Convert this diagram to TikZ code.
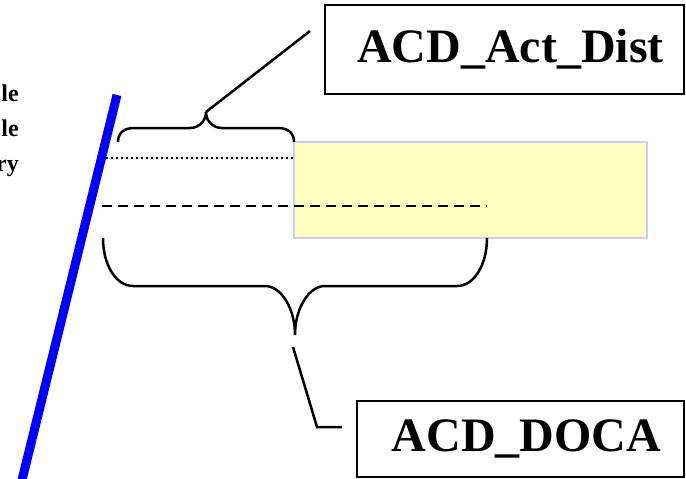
\documentclass[tikz,border=0pt]{standalone}
\usepackage{fontspec}
\setmainfont{Liberation Serif}
\definecolor{zonefill}{RGB}{255,255,192}
\definecolor{zoneedge}{RGB}{204,204,248}
\definecolor{edgeblue}{RGB}{0,0,255}
\begin{document}
\begin{tikzpicture}[x=1pt,y=-1pt,
  labelbox/.style={draw, line width=2.5pt, inner sep=0pt,
    font=\fontsize{48}{52}\selectfont\bfseries},
  sidelabel/.style={anchor=base east, inner sep=0pt,
    font=\fontsize{24}{30}\selectfont\bfseries},
  zonebox/.style={draw=zoneedge, fill=zonefill, line width=2.5pt, inner sep=0pt},
  boundary/.style={draw=edgeblue, line width=9pt},
  bracecurve/.style={line width=2.5pt},
  leader/.style={line width=2.5pt},
  dotline/.style={line width=2.5pt, dash pattern=on 2pt off 3pt},
  dashline/.style={line width=2.5pt, dash pattern=on 10pt off 6pt}]

\path[use as bounding box] (0,0) rectangle (686,479);

% shaded zone
\node[zonebox, minimum width=353pt, minimum height=96pt] (zone) at (470.5,190) {};

% labels (text sits a little right of the box centre)
\node[labelbox, minimum width=359pt, minimum height=89pt] (actbox) at (504.5,49.5) {\kern12pt ACD\_Act\_Dist};
\node[labelbox, minimum width=327pt, minimum height=76pt] (docabox) at (520.5,439) {\kern12pt ACD\_DOCA};

\node[sidelabel] (side1) at (19,101) {le};
\node[sidelabel] (side2) at (19,136) {le};
\node[sidelabel] (side3) at (19,171) {ry};

% boundary line
\coordinate (btop) at (117,95);
\coordinate (bbot) at (21,484);
\draw[boundary] (btop) -- (bbot);

% reference lines
\coordinate (dotstart) at (106,158);
\draw[dotline] (dotstart) -- (zone.west |- dotstart);
\coordinate (dashstart) at (102,206);
\coordinate (dashend) at (487,206);
\draw[dashline] (dashstart) -- (dashend);

% upper brace
\coordinate (ubtip) at (206,112);
\draw[bracecurve] (118,142) .. controls (118,133) and (124,128) .. (134,128)
  -- (190,128) .. controls (199,128) and (206,121) .. (ubtip)
  .. controls (206,121) and (213,128) .. (222,128)
  -- (278,128) .. controls (288,128) and (294,133) .. (294,142);

% lower brace
\coordinate (lbtip) at (295,335);
\draw[bracecurve] (103,238) .. controls (103,265) and (116,286) .. (133,286)
  -- (265,286) .. controls (281,286) and (295,308) .. (lbtip)
  .. controls (295,308) and (309,286) .. (325,286)
  -- (457,286) .. controls (474,286) and (487,265) .. (487,238);

% leaders to the labels
\coordinate (actlead) at (310,31);
\draw[leader] (ubtip) -- (actlead);
\coordinate (docastart) at (293,347);
\coordinate (docaelbow) at (317,427);
\coordinate (docalead) at (342,427);
\draw[leader] (docastart) -- (docaelbow) -- (docalead);

\end{tikzpicture}
\end{document}
